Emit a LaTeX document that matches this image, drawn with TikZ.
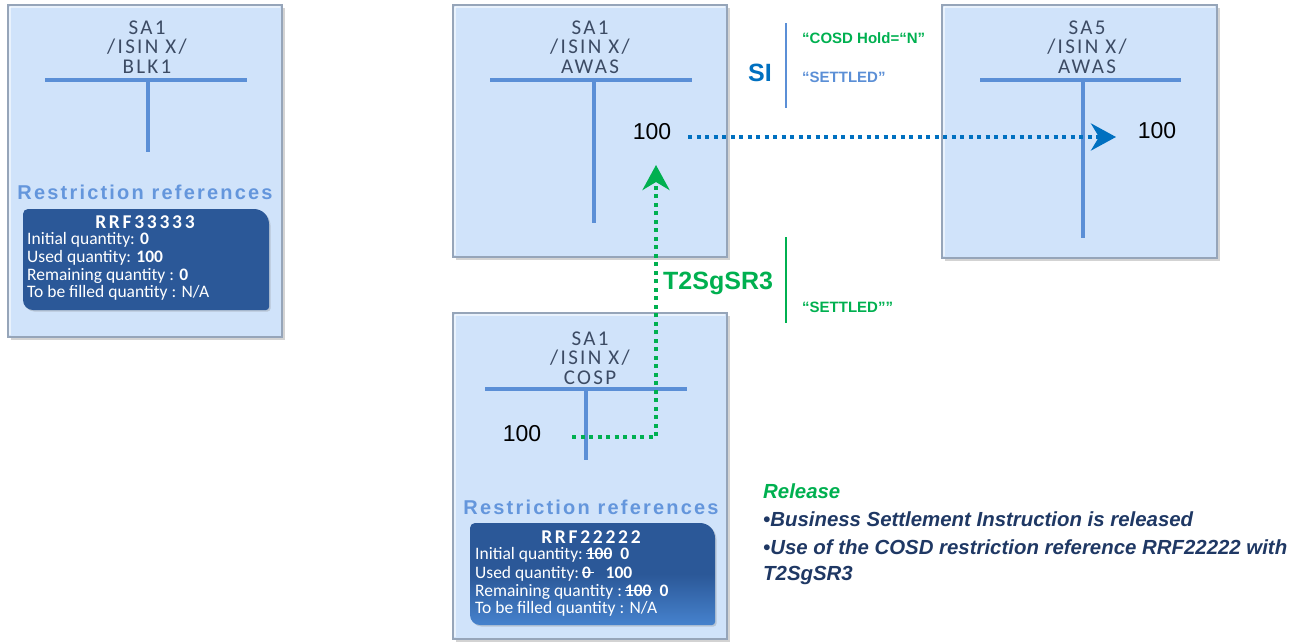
\documentclass[tikz,border=0pt]{standalone}
\usepackage{fontspec}
\setmainfont{Carlito}
\newfontfamily\boxfont[LetterSpace=11]{Carlito}
\newfontfamily\titlefont[LetterSpace=14]{Carlito}
\newfontfamily\arial{Liberation Sans}
\newfontfamily\rrfont[LetterSpace=11]{Liberation Sans}
\newcommand\mystrike[1]{\setbox0\hbox{#1}\rlap{\rule[0.3em]{\wd0}{1.1pt}}\box0}
\usetikzlibrary{arrows.meta,shadows}
\definecolor{boxfill}{RGB}{208,227,250}
\definecolor{boxedge}{RGB}{150,165,185}
\definecolor{tline}{RGB}{91,143,214}
\definecolor{boxtext}{RGB}{60,75,100}
\definecolor{rrcol}{RGB}{100,150,220}
\definecolor{paneldark}{RGB}{43,88,152}
\definecolor{panellight}{RGB}{70,130,205}
\definecolor{siblue}{RGB}{0,112,192}
\definecolor{sigreen}{RGB}{0,176,80}
\definecolor{reldark}{RGB}{31,56,100}
\begin{document}
\begin{tikzpicture}[x=1pt,y=-1pt,
  acct/.style={draw=boxedge, line width=1.2pt, fill=boxfill, inner sep=0pt,
    drop shadow={shadow xshift=2.5pt, shadow yshift=-2.5pt, opacity=0.35}},
  bevel/.style={draw=white, draw opacity=0.55, line width=2pt},
  tbar/.style={draw=tline, line width=4pt},
  acctlabel/.style={text=boxtext, align=center, inner sep=0pt,
    font=\boxfont\fontsize{21}{19.5}\selectfont},
  rrlabel/.style={text=rrcol, inner sep=0pt, font=\rrfont\bfseries\fontsize{20}{22}\selectfont},
  rrtitle/.style={text=white, inner sep=0pt, font=\titlefont\bfseries\fontsize{19.5}{20}\selectfont},
  rrline/.style={text=white, inner sep=0pt, anchor=west, font=\fontsize{17.5}{18}\selectfont},
  qty/.style={text=black, inner sep=0pt, font=\arial\fontsize{23}{25}\selectfont},
  bluedot/.style={draw=siblue, line width=4pt, dash pattern=on 4pt off 4.5pt},
  greendot/.style={draw=sigreen, line width=4pt, dash pattern=on 4pt off 4.5pt},
  smalltxt/.style={inner sep=0pt, anchor=west, font=\arial\bfseries\fontsize{15}{17}\selectfont},
  bigtxt/.style={inner sep=0pt, font=\arial\bfseries\fontsize{25}{27}\selectfont},
  reltxt/.style={inner sep=0pt, anchor=west, text=reldark, font=\arial\bfseries\itshape\fontsize{20.4}{22}\selectfont}
]
\useasboundingbox (0,0) rectangle (1302,641);

% ---------- boxes ----------
\node[acct, minimum width=274pt, minimum height=332pt] (boxA) at (145,171) {};
\node[acct, minimum width=274pt, minimum height=252pt] (boxB) at (590,131) {};
\node[acct, minimum width=275pt, minimum height=253pt] (boxC) at (1079.5,131.5) {};
\node[acct, minimum width=274pt, minimum height=326pt] (boxD) at (590,476) {};
\foreach \b in {boxA,boxB,boxC,boxD}{
  \draw[bevel] ([xshift=2.5pt,yshift=-2.5pt]\b.north west) -- ([xshift=-2.5pt,yshift=-2.5pt]\b.north east);
  \draw[bevel] ([xshift=2.5pt,yshift=-2.5pt]\b.north west) -- ([xshift=2.5pt,yshift=2.5pt]\b.south west);
}

% ---------- box A ----------
\node[acctlabel] (labA) at (147,47) {SA1\\/ISIN X/\\BLK1};
\draw[tbar] (45,80) -- (247,80);
\draw[tbar] (148,80) -- (148,152);
\node[rrlabel] (rrA) at (145,192) {Restriction references};
\fill[paneldark, drop shadow={shadow xshift=1.5pt, shadow yshift=-1.5pt, opacity=0.3}]
  (145,209) [rounded corners=15pt] -- (269,209) [rounded corners=3pt] -- (269,310)
  [rounded corners=10pt] -- (23,310) [rounded corners=5pt] -- (23,209) -- cycle;
\node[rrtitle] (rrAt) at (145,222) {RRF33333};
\node[rrline] (rrA1) at (27,240) {Initial quantity: \textbf{0}};
\node[rrline] (rrA2) at (27,258) {Used quantity: \textbf{100}};
\node[rrline] (rrA3) at (27,276) {Remaining quantity : \textbf{0}};
\node[rrline] (rrA4) at (27,293) {To be filled quantity : N/A};

% ---------- box B ----------
\node[acctlabel] (labB) at (590,47) {SA1\\/ISIN X/\\AWAS};
\draw[tbar] (490,80) -- (692,80);
\draw[tbar] (594,80) -- (594,223);
\node[qty] (qB) at (652,132) {100};

% ---------- box C ----------
\node[acctlabel] (labC) at (1087,47) {SA5\\/ISIN X/\\AWAS};
\draw[tbar] (980,80) -- (1181,80);
\draw[tbar] (1083,80) -- (1083,238);
\node[qty] (qC) at (1157,131) {100};

% ---------- box D ----------
\node[acctlabel] (labD) at (590,358) {SA1\\/ISIN X/\\COSP};
\draw[tbar] (485,389) -- (687,389);
\draw[tbar] (586,389) -- (586,460);
\node[qty] (qD) at (522,434) {100};
\node[rrlabel] (rrD) at (591,507) {Restriction references};
\shade[top color=paneldark, bottom color=panellight, middle color=paneldark,
  drop shadow={shadow xshift=1.5pt, shadow yshift=-1.5pt, opacity=0.3}]
  (592,523) [rounded corners=15pt] -- (715,523) [rounded corners=3pt] -- (715,625)
  [rounded corners=10pt] -- (470,625) [rounded corners=5pt] -- (470,523) -- cycle;
\node[rrtitle] (rrDt) at (591,537) {RRF22222};
\node[rrline] (rrD1) at (475,555) {Initial quantity:\,\textbf{\mystrike{100}\ \ 0}};
\node[rrline] (rrD2) at (475,574) {Used quantity:\,\textbf{\mystrike{0\,}\ \ \ 100}};
\node[rrline] (rrD3) at (475,592) {Remaining quantity :\,\textbf{\mystrike{100}\ \ 0}};
\node[rrline] (rrD4) at (475,609) {To be filled quantity : N/A};

% ---------- connectors ----------
\coordinate (bStart) at (688,137);
\coordinate (bEnd) at (1116,137);
\draw[bluedot, -{Stealth[length=25pt, width=27pt, inset=8pt]}] (bStart) -- (bEnd);

\coordinate (gStart) at (572,437);
\coordinate (gCorner) at (656,437);
\coordinate (gEnd) at (656,165);
\draw[greendot, -{Stealth[length=25pt, width=27pt, inset=8pt]}] (gStart) -- (gCorner) -- (gEnd);

% ---------- SI annotation ----------
\node[bigtxt, text=siblue] (si) at (760,73) {SI};
\coordinate (siTop) at (786,23);
\coordinate (siBot) at (786,108);
\draw[tline, line width=1.6pt] (siTop) -- (siBot);
\node[smalltxt, text=sigreen] (hold) at (802,38) {“COSD Hold=“N”};
\node[smalltxt, text=tline] (setB) at (802,77) {“SETTLED”};

% ---------- T2SgSR3 annotation ----------
\node[bigtxt, text=sigreen, anchor=west] (t2s) at (663,283) {T2SgSR3};
\coordinate (gTop) at (786,237);
\coordinate (gBot) at (786,323);
\draw[sigreen, line width=1.6pt] (gTop) -- (gBot);
\node[smalltxt, text=sigreen] (setG) at (802,307) {“SETTLED””};

% ---------- Release text ----------
\node[reltxt, text=sigreen] (rel0) at (763,491) {Release};
\node[reltxt] (rel1) at (763,519) {•Business Settlement Instruction is released};
\node[reltxt] (rel2) at (763,547) {•Use of the COSD restriction reference RRF22222 with};
\node[reltxt] (rel3) at (763,575) {T2SgSR3};
\end{tikzpicture}
\end{document}
